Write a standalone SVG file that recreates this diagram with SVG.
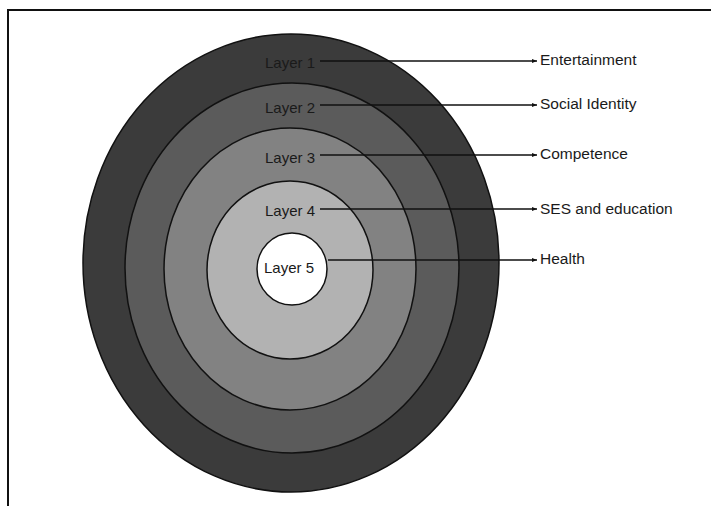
<svg xmlns="http://www.w3.org/2000/svg" width="711" height="506" viewBox="0 0 711 506">
<defs>
<marker id="ah" markerWidth="6" markerHeight="6" refX="5" refY="3" orient="auto" markerUnits="userSpaceOnUse">
<path d="M0,1 L5,3 L0,5 Z" fill="#111"/>
</marker>
<style>
.ring{stroke:#111;stroke-width:1.5}
.lt{font-family:"Liberation Sans",Arial,sans-serif;font-size:15px;fill:#1a1a1a}
.rt{font-family:"Liberation Sans",Arial,sans-serif;font-size:15.5px;fill:#1a1a1a}
.conn{stroke:#111;stroke-width:1.5;fill:none;marker-end:url(#ah)}
</style>
</defs>
<rect x="0" y="0" width="711" height="506" fill="#fff"/>
<rect x="8" y="10" width="720" height="520" fill="none" stroke="#111" stroke-width="2"/>
<g id="layer1"><ellipse class="ring" cx="291" cy="263" rx="208" ry="229" fill="#3b3b3b"/><text class="lt" x="265" y="68">Layer 1</text></g>
<g id="layer2"><ellipse class="ring" cx="292" cy="268" rx="167" ry="185" fill="#5b5b5b"/><text class="lt" x="265" y="113">Layer 2</text></g>
<g id="layer3"><ellipse class="ring" cx="290" cy="269" rx="126" ry="141" fill="#828282"/><text class="lt" x="265" y="163">Layer 3</text></g>
<g id="layer4"><ellipse class="ring" cx="290" cy="270" rx="83" ry="89" fill="#b2b2b2"/><text class="lt" x="265" y="216">Layer 4</text></g>
<g id="layer5"><ellipse class="ring" cx="292" cy="269" rx="35" ry="36" fill="#fff"/><text class="lt" x="264" y="273">Layer 5</text></g>
<g id="connectors">
<line class="conn" x1="320" y1="61" x2="537" y2="61"/>
<line class="conn" x1="320" y1="105" x2="537" y2="105"/>
<line class="conn" x1="320" y1="155" x2="537" y2="155"/>
<line class="conn" x1="320" y1="209" x2="537" y2="209"/>
<line class="conn" x1="328" y1="260" x2="537" y2="260"/>
</g>
<g id="labels">
<text class="rt" x="540" y="65">Entertainment</text>
<text class="rt" x="540" y="109">Social Identity</text>
<text class="rt" x="540" y="159">Competence</text>
<text class="rt" x="540" y="214">SES and education</text>
<text class="rt" x="540" y="264">Health</text>
</g>
</svg>
